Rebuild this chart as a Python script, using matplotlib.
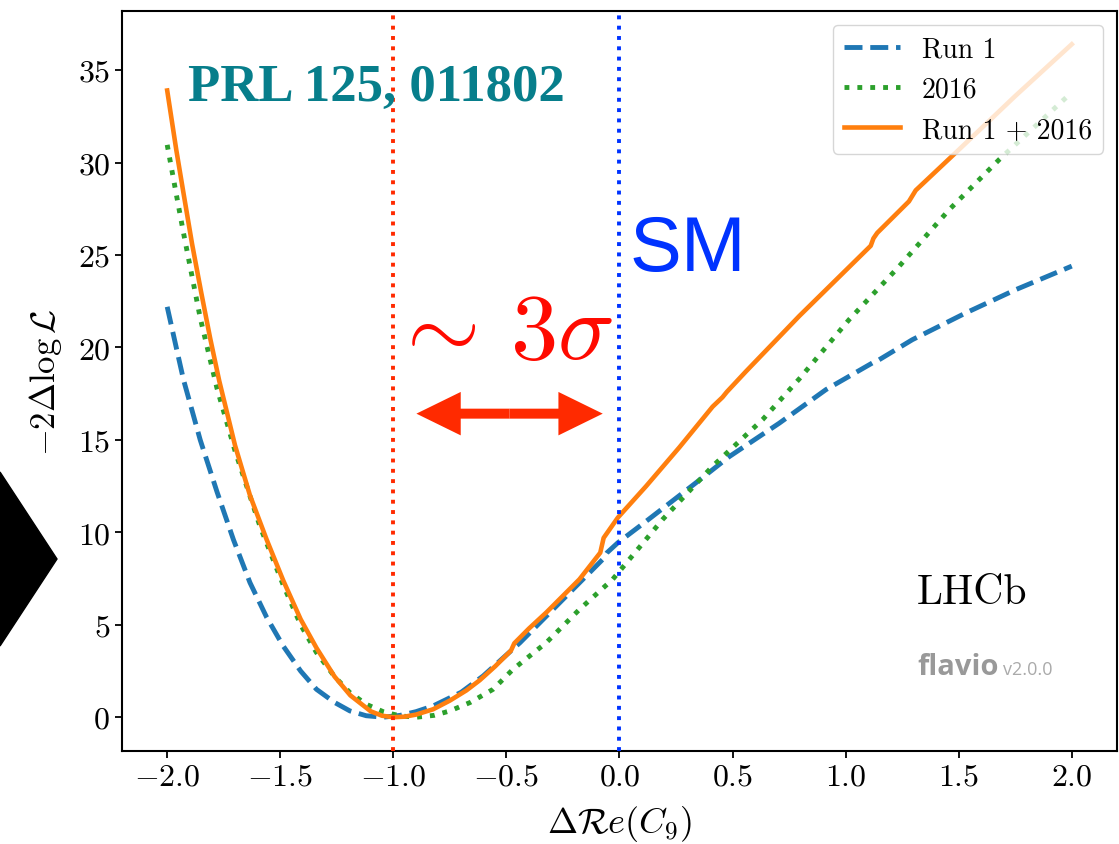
import numpy as np
import matplotlib
matplotlib.use("Agg")
import matplotlib.pyplot as plt
from matplotlib.patches import Polygon, FancyArrow

plt.rcParams['font.family'] = 'cmr10'
plt.rcParams['mathtext.fontset'] = 'cm'
plt.rcParams['axes.formatter.use_mathtext'] = True

# Run 1
x_run1 = [-2.0, -1.96, -1.928, -1.854, -1.78, -1.707, -1.634, -1.56, -1.487, -1.41,
          -1.34, -1.26, -1.192, -1.12, -1.045, -0.97, -0.90, -0.824, -0.70, -0.603,
          -0.44, -0.25, -0.074, -0.055, -0.007, 0.118, 0.338, 0.486, 0.706, 0.913,
          1.118, 1.13, 1.295, 1.53, 1.751, 2.0]
y_run1 = [22.2, 20.0, 18.26, 15.0, 12.2, 9.6, 7.28, 5.4, 3.85, 2.5,
          1.51, 0.8, 0.34, 0.08, 0.0, 0.1, 0.3, 0.61, 1.35, 2.23,
          4.03, 6.37, 8.54, 8.9, 9.44, 10.6, 12.68, 14.1, 15.9, 17.72,
          19.16, 19.2, 20.42, 21.86, 23.12, 24.4]

# 2016
x_2016 = [-2.0, -1.96, -1.928, -1.854, -1.78, -1.70, -1.589, -1.487, -1.41, -1.34,
          -1.26, -1.192, -1.12, -1.045, -0.97, -0.898, -0.82, -0.75, -0.66, -0.559,
          -0.471, -0.324, -0.177, -0.03, 0.007, 0.191, 0.412, 0.633, 0.795, 1.015,
          1.236, 1.457, 1.678, 2.0]
y_2016 = [30.96, 28.3, 26.2, 21.6, 17.8, 14.4, 10.3, 7.15, 5.0, 3.5,
          2.2, 1.33, 0.7, 0.3, 0.07, 0.0, 0.1, 0.34, 0.8, 1.51,
          2.59, 4.03, 5.83, 7.46, 8.0, 10.7, 13.58, 16.1, 18.3, 21.5,
          24.38, 27.44, 30.15, 33.8]

# Run 1 + 2016
x_comb = [-2.0, -1.96, -1.93, -1.89, -1.85, -1.81, -1.77, -1.70, -1.634, -1.56,
          -1.487, -1.41, -1.34, -1.26, -1.19, -1.10, -1.05, -1.0, -0.95, -0.90,
          -0.824, -0.75, -0.677, -0.618, -0.55, -0.48, -0.465, -0.40, -0.324, -0.177,
          -0.085, -0.07, -0.007, 0.118, 0.265, 0.412, 0.455, 0.475, 0.559, 0.795,
          1.111, 1.123, 1.14, 1.28, 1.295, 1.31, 1.501, 1.75, 2.0]
y_comb = [33.9, 30.7, 28.5, 25.6, 23.0, 20.5, 18.2, 14.7, 12.0, 9.6,
          7.4, 5.3, 3.75, 2.2, 1.18, 0.32, 0.08, 0.0, 0.03, 0.14,
          0.43, 0.9, 1.45, 2.0, 2.75, 3.6, 4.0, 4.8, 5.66, 7.46,
          8.9, 9.7, 10.8, 12.5, 14.6, 16.8, 17.3, 17.6, 18.7, 21.7,
          25.5, 25.9, 26.2, 27.9, 28.2, 28.5, 30.7, 33.6, 36.4]

best_fit = -1.0
sm_point = 0.0

fig = plt.figure(figsize=(11.19, 8.45), dpi=100)
ax = fig.add_axes([0.109, 0.110, 0.8892, 0.8758])

ax.plot(x_run1, y_run1, ls='--', lw=3.5, color='#1f77b4', label='Run 1')
ax.plot(x_2016, y_2016, ls=':', lw=3.5, color='#2ca02c', label='2016')
ax.plot(x_comb, y_comb, ls='-', lw=3.3, color='#ff7f0e', label='Run 1 + 2016')

ax.axvline(best_fit, ls=':', lw=2.8, color='#ff2a00', zorder=3)
ax.axvline(sm_point, ls=':', lw=2.8, color='#0033ff', zorder=3)

ax.set_xlim(-2.2, 2.2)
ax.set_ylim(-1.83, 38.2)
ax.set_xticks([-2.0, -1.5, -1.0, -0.5, 0.0, 0.5, 1.0, 1.5, 2.0])
ax.set_yticks([0, 5, 10, 15, 20, 25, 30, 35])
ax.tick_params(labelsize=23, length=5, width=1.3)
for s in ax.spines.values():
    s.set_linewidth(1.5)

ax.set_xlabel(r'$\Delta\mathcal{R}e(C_9)$', fontsize=26, labelpad=9)
ax.set_ylabel(r'$-2\Delta\log\mathcal{L}$', fontsize=25, labelpad=10)

leg = ax.legend(loc='upper right', fontsize=20)

# double arrow between best fit and SM
ay = 16.42
mid = -0.486
for tip in (-0.898, -0.074):
    ax.add_patch(FancyArrow(mid, ay, tip - mid, 0, width=0.54, head_width=2.35,
                            head_length=0.196, length_includes_head=True,
                            color='#ff2a00', lw=0, zorder=4))

ax.text(-1.015, 19.45, r'$\sim\,3\sigma$', fontsize=68, color='#ff0a00',
        ha='left', va='baseline')
ax.text(0.044, 24.2, 'SM', fontsize=56, color='#0033ff', family='Liberation Sans',
        ha='left', va='baseline')
ax.text(-1.907, 33.4, 'PRL 125, 011802', fontsize=38, color='#077e8b',
        family='Liberation Serif', weight='bold', ha='left', va='baseline')
ax.text(1.316, 6.2, 'LHCb', fontsize=30, ha='left', va='baseline')
ax.text(1.316, 2.32, 'flavio', fontsize=21, color='#999999', family='Open Sans',
        weight='bold', ha='left', va='baseline')
ax.text(1.695, 2.32, 'v2.0.0', fontsize=13, color='#aaaaaa', family='Open Sans',
        ha='left', va='baseline')

# black slide arrow at the left edge
W, H = 1119, 845
tri = [(0, 473), (57, 560), (0, 647)]
fig.patches.append(Polygon([(px / W, 1 - py / H) for px, py in tri], closed=True,
                           transform=fig.transFigure, color='black'))

plt.savefig('out.png', dpi=100)
plt.close()
